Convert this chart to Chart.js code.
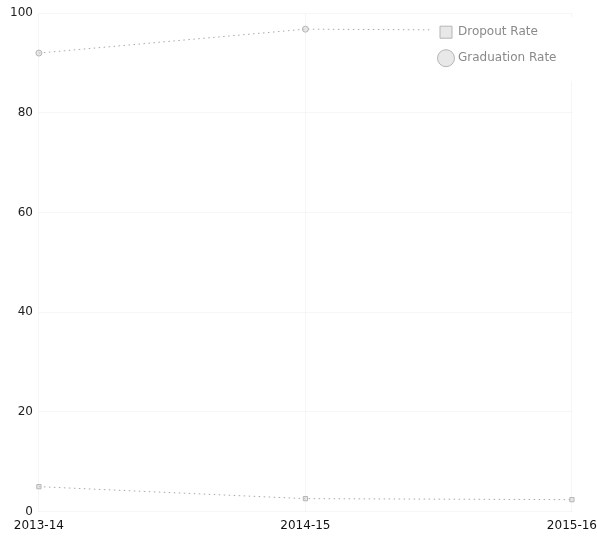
<!DOCTYPE html>
<html>
<head>
<meta charset="utf-8">
<script src="https://cdn.jsdelivr.net/npm/chart.js@4/dist/chart.umd.min.js"></script>
<style>
  html, body { margin: 0; padding: 0; background: #fff; }
  #wrap { width: 597px; height: 538px; }
</style>
</head>
<body>
<div id="wrap"><canvas id="c"></canvas></div>
<script>
const categories = ['2013-14', '2014-15', '2015-16'];
const dropoutRate = [5.0, 2.6, 2.4];
const graduationRate = [92.0, 96.8, 96.5];
const yTicks = [0, 20, 40, 60, 80, 100];

const legendPlacer = {
  id: 'legendPlacer',
  afterLayout(chart) {
    const lg = chart.legend;
    if (!lg) return;
    const w = lg.width;
    const h = lg.height;
    lg.left = 426;
    lg.right = lg.left + w;
    lg.top = chart.chartArea.top - 1;
    lg.bottom = lg.top + h;
  },
  afterDatasetsDraw(chart) {
    const ctx = chart.ctx;
    ctx.save();
    ctx.fillStyle = '#ffffff';
    ctx.fillRect(431, chart.chartArea.top + 4, 597 - 431, 64);
    ctx.restore();
    if (chart.legend) chart.legend.draw();
  }
};

new Chart(document.getElementById('c'), {
  type: 'line',
  data: {
    labels: categories,
    datasets: [
      {
        label: 'Dropout Rate',
        data: dropoutRate,
        borderColor: '#a8a8a8',
        backgroundColor: '#c8c8c8',
        borderWidth: 1,
        borderDash: [1.5, 3.5],
        pointStyle: 'rect',
        pointRadius: 3,
        pointBackgroundColor: 'rgba(210,210,210,0.5)',
        pointBorderColor: '#b5b5b5',
        tension: 0,
        fill: false
      },
      {
        label: 'Graduation Rate',
        data: graduationRate,
        borderColor: '#a8a8a8',
        backgroundColor: '#e2e2e2',
        borderWidth: 1,
        borderDash: [1.5, 3.5],
        pointStyle: 'circle',
        pointRadius: 3,
        pointBackgroundColor: 'rgba(210,210,210,0.5)',
        pointBorderColor: '#b5b5b5',
        tension: 0,
        fill: false
      }
    ]
  },
  options: {
    responsive: true,
    maintainAspectRatio: false,
    animation: false,
    layout: { padding: { left: 4, top: 7, right: 0, bottom: 5 } },
    plugins: {
      legend: {
        position: 'chartArea',
        align: 'start',
        labels: {
          usePointStyle: true,
          padding: 14,
          color: '#8a8a8a',
          font: { family: 'DejaVu Sans', size: 12 }
        }
      },
      tooltip: { enabled: false }
    },
    scales: {
      x: {
        type: 'category',
        offset: false,
        grid: { color: 'rgba(0,0,0,0.035)', drawTicks: true, tickLength: 7, tickColor: 'rgba(0,0,0,0)' },
        border: { display: false },
        ticks: {
          color: '#111',
          padding: 0,
          maxRotation: 0,
          font: { family: 'DejaVu Sans', size: 12 }
        }
      },
      y: {
        min: 0,
        max: 100,
        afterBuildTicks(axis) { axis.ticks = yTicks.map(v => ({ value: v })); },
        grid: { color: 'rgba(0,0,0,0.035)', drawTicks: false },
        border: { display: false },
        ticks: {
          color: '#222',
          padding: 6,
          font: { family: 'DejaVu Sans', size: 12 }
        }
      }
    }
  },
  plugins: [legendPlacer]
});
</script>
</body>
</html>
